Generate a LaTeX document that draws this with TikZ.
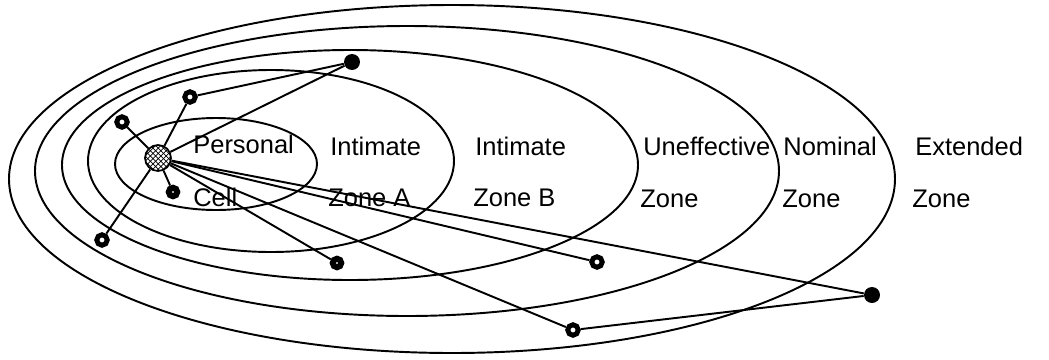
\documentclass[tikz,border=0pt]{standalone}
\usepackage{fontspec}
\setmainfont{Liberation Sans}
\usetikzlibrary{patterns}
\tikzset{
  zone/.style={line width=1.1pt},
  link/.style={line width=1.1pt},
  ring/.style={circle, draw, line width=2.8pt, inner sep=0pt, minimum size=0.21cm, fill=white},
  dot/.style={circle, fill, inner sep=0pt, minimum size=0.32cm},
  cellnode/.style={circle, draw, line width=1pt, inner sep=0pt, minimum size=0.52cm, pattern=crosshatch},
  lbl/.style={font=\fontsize{14.5}{17}\selectfont, inner sep=0pt, anchor=base west}
}

\begin{document}
\begin{tikzpicture}[x=0.02cm, y=-0.02cm]
  \useasboundingbox (0,0) rectangle (1049,359);
  \draw[zone] (216,164) ellipse (101 and 46);
  \draw[zone] (271,161) ellipse (183 and 91);
  \draw[zone] (350,165) ellipse (288 and 115);
  \draw[zone] (407,171) ellipse (372 and 145);
  \draw[zone] (452,179) ellipse (443 and 174);

  \node[cellnode] (C) at (158,158) {};
  \node[ring] (P1) at (122,122) {};
  \node[ring] (P2) at (190,97) {};
  \node[dot]  (P3) at (352,62) {};
  \node[ring, line width=3.4pt, minimum size=0.17cm] (P4) at (173,192) {};
  \node[ring] (P5) at (102,240) {};
  \node[ring, line width=3.4pt, minimum size=0.17cm] (P6) at (337,263) {};
  \node[ring] (P7) at (597,262) {};
  \node[ring] (P8) at (573,330) {};
  \node[dot]  (P9) at (872,295) {};

  \foreach \i in {1,...,9}
    \draw[link] (C) -- (P\i);
  \draw[link] (P2) -- (P3);
  \draw[link] (P8) -- (P9);

  \node[lbl] (personal) at (193,153) {Personal};
  \node[lbl] (cell) at (193,206) {Cell};
  \node[lbl] (intimA) at (330,155) {Intimate};
  \node[lbl] (zoneA) at (328,206) {Zone A};
  \node[lbl] (intimB) at (475,155) {Intimate};
  \node[lbl] (zoneB) at (473,206) {Zone B};
  \node[lbl] (uneff) at (643,155) {Uneffective};
  \node[lbl] (uneffZ) at (640,207) {Zone};
  \node[lbl] (nominal) at (783,155) {Nominal};
  \node[lbl] (nominalZ) at (782,207) {Zone};
  \node[lbl] (extended) at (915,155) {Extended};
  \node[lbl] (extendedZ) at (912,207) {Zone};
\end{tikzpicture}
\end{document}
